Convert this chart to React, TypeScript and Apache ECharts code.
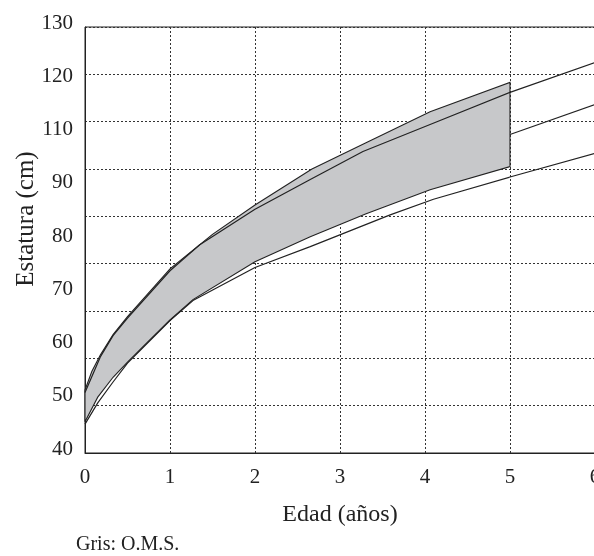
import React, { useEffect, useRef } from "react";
import * as echarts from "echarts";

// Grey band (O.M.S.) upper and lower edges
const bandTopAge = [0, 0.08, 0.18, 0.33, 0.5, 1.0, 1.5, 2.0, 2.67, 3.3, 4.06, 5.0];
const bandTopCm = [53.3, 57.2, 60.7, 65.0, 68.8, 78.9, 86.2, 92.4, 100.0, 105.5, 112.1, 118.3];
const bandBottomAge = [0, 0.15, 0.33, 0.5, 0.73, 1.0, 1.27, 2.0, 2.65, 3.3, 4.06, 5.0];
const bandBottomCm = [46.6, 51.8, 56.0, 59.2, 63.3, 68.1, 72.4, 80.4, 85.7, 90.5, 95.6, 100.5];

// Black reference curves
const upperAge = [0, 0.18, 0.33, 0.5, 1.0, 1.35, 2.0, 2.65, 3.27, 4.06, 5.0, 6.0];
const upperCm = [52.8, 60.3, 64.8, 68.5, 78.5, 84.0, 91.5, 97.8, 103.7, 109.4, 116.2, 122.5];
const middleAge = [5.0, 6.0];
const middleCm = [107.3, 113.6];
const lowerAge = [0, 0.15, 0.33, 0.5, 1.0, 1.27, 2.0, 2.65, 3.59, 4.1, 5.0, 6.0];
const lowerCm = [46.1, 50.6, 55.0, 59.0, 68.0, 72.2, 79.2, 83.6, 90.3, 93.6, 98.3, 103.3];

// Tick labels as printed (evenly spaced, 100 missing)
const yTickLabels = ["40", "50", "60", "70", "80", "90", "110", "120", "130"];

const FONT = "'Liberation Serif', 'DejaVu Serif', serif";
const INK = "#222";

const pairs = (xs: number[], ys: number[]) => xs.map((x, i) => [x, ys[i]]);

export default function App() {
  const ref = useRef<HTMLDivElement>(null);
  useEffect(() => {
    if (!ref.current) return;
    const chart = echarts.init(ref.current, null, { renderer: "svg" });
    const dashed = { type: [2, 2] as any, color: "#333", width: 1 };
    const lineSeries = (xs: number[], ys: number[]) => ({
      type: "line",
      data: pairs(xs, ys),
      showSymbol: false,
      symbol: "none",
      smooth: false,
      lineStyle: { color: INK, width: 1.2 },
      z: 3,
      silent: true,
      xAxisIndex: 0,
      yAxisIndex: 0,
    });
    chart.setOption({
      animation: false,
      grid: {
        left: 85,
        right: -1,
        top: 27,
        bottom: 103,
        show: true,
        borderColor: INK,
        borderWidth: 1,
        backgroundColor: "transparent",
        containLabel: false,
        outerBoundsMode: "none",
      },
      xAxis: {
        type: "value",
        min: 0,
        max: 6,
        interval: 1,
        axisLine: { show: true, lineStyle: { color: INK, width: 1 } },
        axisTick: { show: false },
        axisLabel: {
          fontFamily: FONT,
          fontSize: 21,
          color: INK,
          margin: 12,
          showMaxLabel: true,
          showMinLabel: true,
        },
        splitLine: { show: true, lineStyle: dashed },
        name: "Edad (años)",
        nameLocation: "middle",
        nameGap: 48,
        nameTextStyle: { fontFamily: FONT, fontSize: 24, color: INK },
      },
      yAxis: [
        {
          type: "value",
          min: 40,
          max: 130,
          interval: 10,
          axisLine: { show: true, lineStyle: { color: INK, width: 1 } },
          axisTick: { show: false },
          axisLabel: { show: false },
          splitLine: { show: true, lineStyle: dashed },
        },
        {
          type: "value",
          position: "left",
          min: 0,
          max: yTickLabels.length - 1,
          interval: 1,
          axisLine: { show: false },
          axisTick: { show: false },
          splitLine: { show: false },
          axisLabel: {
            fontFamily: FONT,
            fontSize: 21,
            color: INK,
            margin: 12,
            verticalAlign: "bottom",
            lineHeight: 11,
            showMaxLabel: true,
            showMinLabel: true,
            formatter: (v: number) => yTickLabels[Math.round(v)] ?? "",
          },
        },
      ],
      graphic: [
        {
          type: "text",
          x: 24,
          y: 219,
          rotation: Math.PI / 2,
          style: {
            text: "Estatura (cm)",
            font: `25px ${FONT}`,
            fill: INK,
            align: "center",
            verticalAlign: "middle",
          },
        },
        {
          type: "text",
          x: 76,
          y: 553,
          style: {
            text: "Gris: O.M.S.",
            font: `20px ${FONT}`,
            fill: INK,
            align: "left",
            verticalAlign: "bottom",
          },
        },
      ],
      series: [
        lineSeries(middleAge, middleCm),
        {
          type: "custom",
          coordinateSystem: "cartesian2d",
          xAxisIndex: 0,
          yAxisIndex: 0,
          silent: true,
          clip: false,
          z: 2,
          data: [[0, 40]],
          renderItem: (_params: any, api: any) => {
            const top = bandTopAge.map((a, i) => api.coord([a, bandTopCm[i]]));
            const bottom = bandBottomAge
              .map((a, i) => api.coord([a, bandBottomCm[i]]))
              .reverse();
            return {
              type: "polygon",
              shape: { points: [...top, ...bottom] },
              style: { fill: "#c7c8ca", stroke: INK, lineWidth: 1.1 },
            };
          },
        },
        lineSeries(upperAge, upperCm),
        lineSeries(lowerAge, lowerCm),
      ],
    });
    return () => chart.dispose();
  }, []);
  return (
    <div
      ref={ref}
      style={{ position: "fixed", left: 0, top: 0, width: 594, height: 556 }}
    />
  );
}
